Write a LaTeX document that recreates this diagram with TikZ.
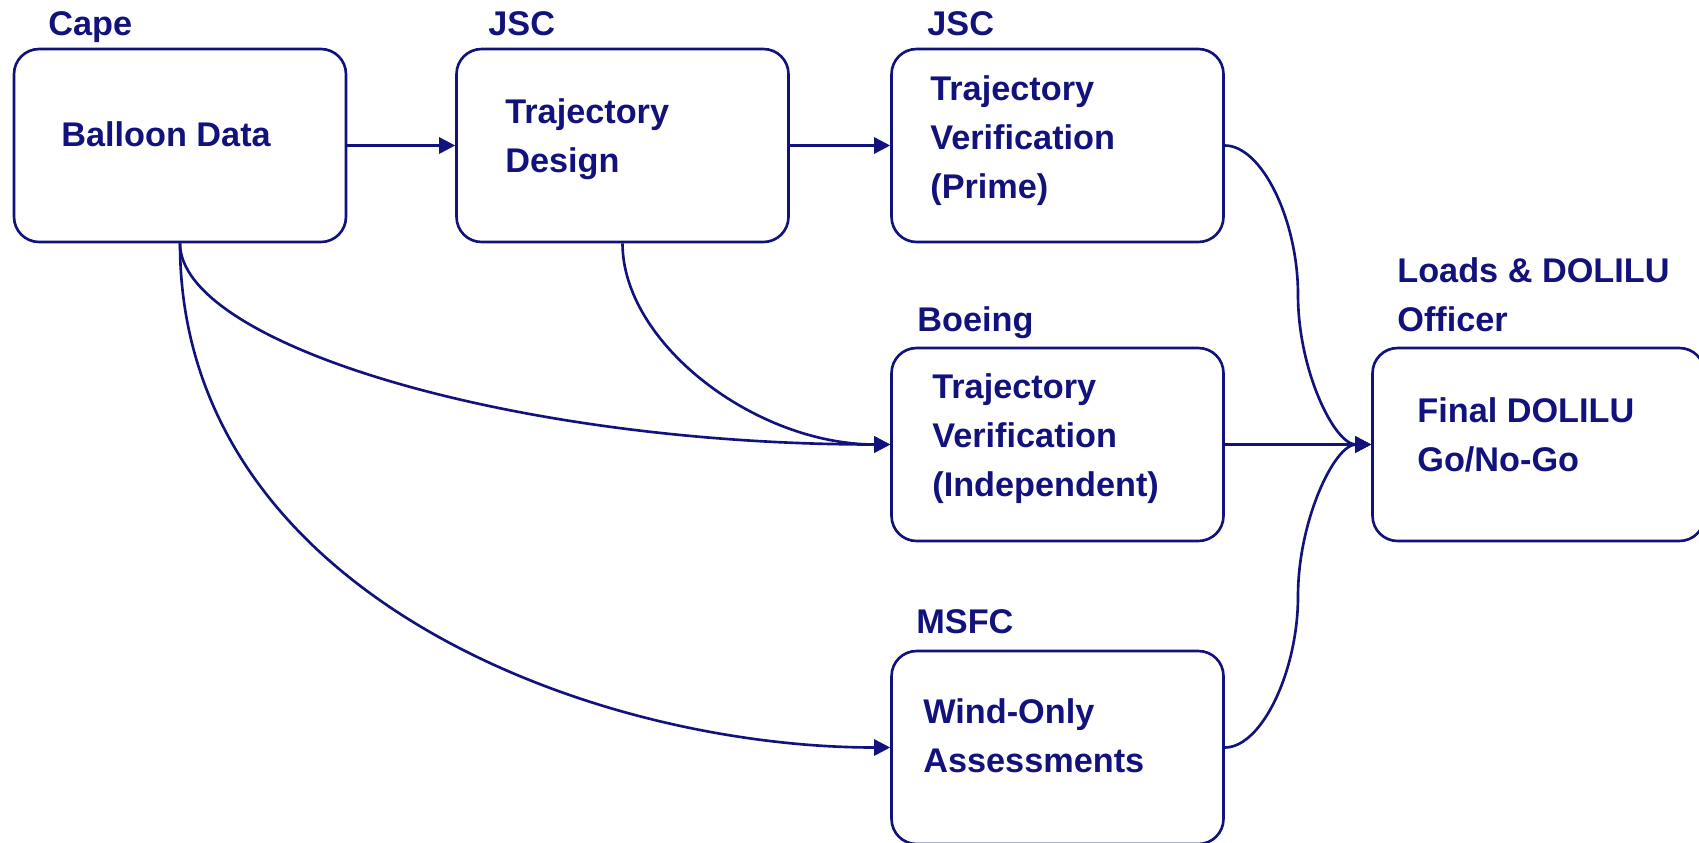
\documentclass[tikz,border=0pt]{standalone}
\usepackage{fontspec}
\setmainfont{Liberation Sans}
\usepackage{tikz}
\usetikzlibrary{arrows.meta}
\usetikzlibrary{calc}
\definecolor{navyblue}{RGB}{18,18,124}
\tikzset{box/.style={draw=navyblue,rounded corners=0.5cm,line width=1.5pt,minimum width=6.64cm,minimum height=3.86cm,inner sep=0pt}}
\tikzset{txt/.style={anchor=north west,inner sep=0pt,align=left,text=navyblue,font=\bfseries\fontsize{19.5pt}{27.9pt}\selectfont}}
\tikzset{link/.style={draw=navyblue,line width=1.5pt,-{Triangle[length=0.32cm,width=0.32cm]}}}

\begin{document}
\begin{tikzpicture}[x=0.02cm,y=-0.02cm]
  \useasboundingbox (0,0) rectangle (1699,842);
  \node[box] (bal) at (180,145.5) {};
  \node[box] (des) at (622.5,145.5) {};
  \node[box] (pri) at (1057.5,145.5) {};
  \node[box] (ind) at (1057.5,444.5) {};
  \node[box] (msfc) at (1057.5,747.5) {};
  \node[box] (fin) at (1538.5,444.5) {};
  % who does it
  \node[txt] (bal-h) at (48,11) {Cape};
  \node[txt] (des-h) at (488,11) {JSC};
  \node[txt] (pri-h) at (927,11) {JSC};
  \node[txt] (ind-h) at (917,306) {Boeing};
  \node[txt] (msfc-h) at (916,609) {MSFC};
  \node[txt] (fin-h) at (1397,257) {Loads \& DOLILU\\Officer};
  % what is done
  \node[txt] (bal-t) at (61,121) {Balloon Data};
  \node[txt] (des-t) at (505,98) {Trajectory\\Design};
  \node[txt] (pri-t) at (930,75) {Trajectory\\Verification\\(Prime)};
  \node[txt] (ind-t) at (932,373) {Trajectory\\Verification\\(Independent)};
  \node[txt] (msfc-t) at (923,698) {Wind-Only\\Assessments};
  \node[txt] (fin-t) at (1417,397) {Final DOLILU\\Go/No-Go};

  \draw[link] (bal.east) -- (des.west);
  \draw[link] (des.east) -- (pri.west);
  \draw[link] (ind.east) -- (fin.west);
  \draw[link] (pri.east) to[out=0,in=90,out distance=0.74cm,in distance=1.5cm] ($(pri.east)!0.5!(fin.west)$)
    to[out=-90,in=180,out distance=1.5cm,in distance=0.74cm] (fin.west);
  \draw[link] (msfc.east) to[out=0,in=-90,out distance=0.74cm,in distance=1.5cm] ($(msfc.east)!0.5!(fin.west)$)
    to[out=90,in=180,out distance=1.5cm,in distance=0.74cm] (fin.west);
  \draw[link] (des.south) to[out=-90,in=180,out distance=2cm,in distance=2.7cm] (ind.west);
  \draw[link] (bal.south) to[out=-90,in=180,out distance=2cm,in distance=7.6cm] (ind.west);
  \draw[link] (bal.south) to[out=-90,in=180,out distance=7cm,in distance=6cm] (msfc.west);
\end{tikzpicture}
\end{document}
